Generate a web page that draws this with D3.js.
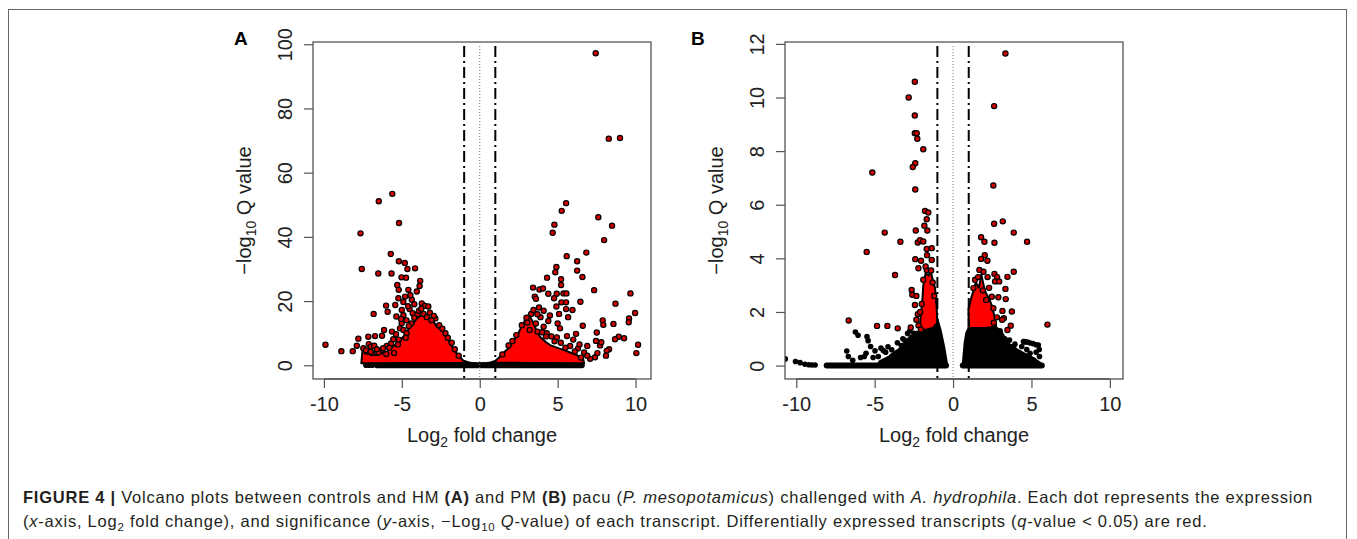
<!DOCTYPE html>
<meta charset="utf-8">
<script src="https://d3js.org/d3.v7.min.js"></script>
<style>
  body { margin: 0; background: #fff; }
  text { font-family: "Liberation Sans", Arial, Helvetica, sans-serif; }
</style>
<svg id="fig" width="1357" height="539"></svg>
<script>

// ---- data ----
var xTicks = [-10, -5, 0, 5, 10];
var yTicksA = [0, 20, 40, 60, 80, 100];
var yTicksB = [0, 2, 4, 6, 8, 10, 12];
var foldCuts = [-1, 1];
var zeroLine = [0];

// panel A: significant transcripts (log2 FC, -log10 q)
var sigA = [[7.44,97.2],[8.28,70.6],[9.0,70.8],[-6.48,51.1],[-5.61,53.4],[5.54,50.5],[5.26,48.1],[7.61,46.1],
  [-5.18,44.3],[-7.65,41.1],[-7.57,30.0],[-6.51,28.6],[-5.71,34.7],[-5.19,32.4],[-4.81,31.9],[-4.64,30.0],
  [-4.15,30.2],[-5.66,28.6],[-5.02,27.4],[-4.73,27.3],[-3.82,26.3],[-3.86,24.7],[-5.29,25.0],[-5.2,23.5],
  [-4.58,23.5],[-4.04,23.0],[-4.79,21.4],[-5.22,20.9],[-4.36,20.4],[-6.01,18.6],[-5.42,18.8],[-3.72,19.3],
  [-3.51,18.5],[-3.30,18.3],[-5.91,16.7],[-6.81,16.0],[-5.35,15.2],[-4.90,15.6],[-2.85,14.6],[-6.14,11.0],
  [-5.63,10.5],[-6.72,9.1],[-6.27,9.2],[-7.15,8.9],[-7.79,8.3],[-7.89,6.1],[-9.9,6.4],[-8.88,4.4],[-8.15,4.4],
  [-7.12,6.6],[-7.47,5.3],[-6.98,5.8],[-6.77,6.1],[-6.32,4.6],[-5.97,6.0],[-5.69,6.8],[-5.55,8.1],[-5.37,9.7],
  [-5.12,11.5],[-5.01,13.1],[-4.5,17.5],[-4.3,16.2],[-4.0,15.8],[-3.9,17.0],[-3.6,16.0],[-4.7,14.0],[-4.4,13.0],
  [-4.9,11.0],[-4.7,10.0],[-5.2,8.0],[-5.8,5.5],[-6.5,4.0],[-6.9,3.8],[-6.0,3.5],[-5.5,3.8],[-3.4,15.0],
  [-3.1,14.0],[-2.6,12.5],[-2.2,10.0],[-1.8,7.0],[-4.2,19.0],[-4.6,18.4],[-5.0,17.2],[-4.45,21.8],[-4.9,19.7],
  [-5.05,14.4],[-4.2,14.8],[-3.75,17.6],[-3.2,16.4],[-2.95,15.4],[-4.55,12.2],[-4.75,8.6],[-5.25,6.5],
  [-6.2,5.3],[-6.6,5.0],[-7.3,4.7],[-7.0,4.2],[-2.4,11.4],[-2.05,8.6],[-1.6,5.0],[-1.35,3.0],
  [8.49,43.5],[4.79,43.8],[4.68,41.3],[7.98,39.0],[6.84,35.1],[5.58,34.0],[6.25,32.4],[4.92,30.6],[6.25,29.5],
  [4.85,29.0],[4.32,27.3],[5.22,26.8],[6.59,27.5],[3.42,24.2],[3.83,23.6],[4.06,23.9],[5.22,25.0],[4.40,22.3],
  [4.94,22.3],[5.37,22.4],[5.56,22.4],[7.34,23.4],[9.67,22.4],[3.53,21.4],[3.61,20.7],[4.77,20.9],[5.24,19.6],
  [5.54,19.6],[6.46,19.8],[8.71,19.2],[4.92,18.3],[5.54,17.5],[5.95,17.2],[5.09,16.0],[5.67,15.0],[9.97,16.3],
  [9.58,14.6],[9.56,13.4],[7.89,14.0],[7.93,12.6],[8.58,12.9],[6.61,12.3],[5.15,11.5],[7.51,10.2],[6.18,9.8],
  [8.92,8.9],[9.26,8.4],[8.68,8.1],[7.46,7.6],[10.16,6.4],[10.05,3.8],[8.30,5.0],[8.15,4.5],[8.1,3.0],[7.72,6.2],
  [7.8,7.2],[7.40,2.5],[7.08,2.0],[7.55,3.8],[3.0,14.8],[3.3,16.0],[3.6,13.0],[3.9,15.0],[4.1,12.0],[4.3,10.0],
  [4.6,9.0],[4.8,7.5],[5.2,7.0],[5.8,6.0],[6.3,5.2],[6.7,4.0],[6.9,3.0],[6.5,2.4],[2.7,12.5],[3.2,11.0],
  [3.7,10.5],[4.4,13.8],[4.1,17.0],[3.8,18.0],[4.5,15.5],[5.0,13.0],[6.0,8.0],[6.9,6.0],[3.45,17.2],[3.7,15.9],
  [4.25,9.0],[4.0,10.3],[5.5,5.5],[6.1,4.3],[6.4,6.5],[5.6,9.1],[4.95,8.7],[2.35,9.4],[1.85,6.2],[1.45,3.4],
  [2.1,7.6],[3.05,13.3]];
// panel A: dense clouds (outline of the packed dots)
var redCloudA = [
  [[-7.6,0.6],[-7.51,5.3],[-7.36,3.7],[-6.61,3.2],[-5.97,4.2],[-5.44,6.3],[-4.90,8.9],[-4.6,11.0],[-4.47,12.6],
   [-4.2,13.4],[-4.04,14.6],[-3.8,15.4],[-3.5,16.1],[-3.19,14.8],[-2.9,13.2],[-2.76,12.0],[-2.5,11.3],
   [-2.34,10.5],[-2.1,8.9],[-1.91,6.9],[-1.7,5.2],[-1.48,3.7],[-1.2,2.2],[-0.94,0.8]],
  [[0.87,0.8],[1.1,1.8],[1.30,2.7],[1.6,4.2],[1.94,5.8],[2.2,7.9],[2.48,10.0],[2.7,12.2],[2.91,14.1],[3.1,15.6],
   [3.23,15.1],[3.4,13.6],[3.55,12.0],[3.7,10.2],[3.87,8.9],[4.2,7.4],[4.51,6.3],[4.9,5.6],[5.37,4.8],[5.8,4.0],
   [6.23,3.2],[6.45,2.4],[6.65,1.7],[6.7,0.6]]];
var nsCloudA = [[[-1.3,0],[-1.0,1.2],[-0.6,0.6],[0,0.3],[0.6,0.6],[1.0,1.2],[1.3,0]]];
var nsA = [[-7.3,0],[-7.1,0],[-6.9,0]];
var baselineA = [[-6.6, 6.55]];

// panel B
var sigB = [[3.34,11.64],[-2.44,10.59],[-2.83,10.0],[2.62,9.68],[-2.44,9.33],[-2.44,8.67],[-2.32,8.67],
  [-2.28,8.46],[-1.90,8.07],[-2.41,7.55],[-2.57,7.41],[-5.15,7.2],[-2.41,6.57],[2.57,6.72],[-1.79,5.77],
  [-1.58,5.71],[-1.68,5.46],[-1.83,5.22],[-1.64,5.04],[-2.38,5.04],[-4.36,4.96],[-3.36,4.62],[-2.25,4.59],
  [-2.11,4.68],[-1.90,4.63],[-1.68,4.35],[-1.36,4.38],[-5.51,4.24],[-2.41,3.97],[-2.04,3.91],[-1.66,4.12],
  [-1.36,3.94],[-2.21,3.63],[-1.68,3.57],[-3.70,3.38],[-2.64,2.82],[-2.60,2.64],[-2.34,2.60],[-2.43,2.26],
  [-2.25,1.92],[-2.34,1.71],[-2.70,1.42],[-6.66,1.68],[-4.85,1.48],[-4.19,1.48],[-3.53,1.39],
  [-1.9,3.2],[-1.3,3.1],[-2.0,2.3],[-2.1,2.0],[-2.2,1.5],[-1.2,2.6],[-2.05,1.35],[-1.4,3.55],[-1.75,3.7],
  [2.62,5.29],[3.17,5.38],[1.79,4.79],[2.00,4.62],[2.64,4.58],[3.87,4.96],[4.72,4.62],[2.02,4.12],[1.79,3.98],
  [2.19,3.91],[1.68,3.57],[1.94,3.50],[2.64,3.42],[2.81,3.30],[2.68,3.14],[2.94,3.14],[3.87,3.50],[3.47,3.31],
  [3.34,2.86],[2.89,2.55],[3.36,2.48],[2.57,2.14],[3.15,2.04],[3.24,1.77],[3.75,2.02],[3.68,1.49],[3.47,1.33],
  [6.02,1.53],[3.13,1.71],[1.40,3.20],[1.30,2.89],[2.11,2.45],[2.47,2.57],[1.6,3.3],
  [2.3,2.9],[2.2,3.3],[2.8,1.8],[2.6,1.6],[1.9,2.8]];
var redCloudB = [
  [[-2.15,1.3],[-2.05,1.9],[-1.95,2.5],[-1.9,3.0],[-1.75,3.45],[-1.55,3.35],[-1.45,3.6],[-1.3,3.2],
   [-1.15,2.9],[-1.05,2.2],[-1.0,1.6],[-1.3,1.4],[-1.7,1.35]],
  [[1.0,1.4],[0.98,2.1],[1.15,2.5],[1.3,2.8],[1.45,3.1],[1.65,2.9],[1.8,3.4],[1.95,3.0],[2.1,2.7],[2.3,2.5],
   [2.5,2.2],[2.65,1.8],[2.75,1.45],[2.0,1.4]]];
var nsCloudB = [
  [[-4.8,0],[-4.66,0.15],[-4.02,0.34],[-3.7,0.5],[-3.38,0.62],[-2.96,0.9],[-2.7,1.1],[-2.53,1.05],[-2.3,1.25],
   [-2.11,1.2],[-1.9,1.3],[-1.68,1.35],[-1.3,1.55],[-1.04,1.75],[-0.83,1.33],[-0.6,0.7],[-0.4,0]],
  [[0.6,0],[0.66,0.11],[0.77,0.84],[0.87,1.21],[1.08,1.46],[1.4,1.4],[1.6,1.45],[2.0,1.38],[2.4,1.48],
   [2.79,1.39],[3.11,1.21],[3.3,1.0],[3.43,0.84],[3.75,0.72],[4.06,0.59],[4.5,0.45],[4.91,0.34],[5.55,0.09],
   [5.6,0]]];
var nsB = [[-10.7,0.25],[-10.05,0.15],[-9.76,0.11],[-9.45,0.05],[-9.2,0.03],[-9.0,0.02],[-8.8,0.02],
  [-6.78,0.54],[-6.68,0.34],[-6.23,1.25],[-6.06,1.13],[-5.49,1.08],[-5.42,0.93],[-5.26,0.71],[-5.55,0.46],
  [-5.66,0.34],[-4.98,0.55],[-4.77,0.34],[-4.45,0.56],[-3.91,0.59],[-3.9,0.35],[-3.6,0.3],[-3.3,0.75],
  [-3.1,0.95],[-2.9,1.2],[-3.2,1.0],[-4.3,0.5],[-4.6,0.65],[-4.15,0.7],[-3.55,0.85],[-2.75,1.3],[-2.5,1.2],
  [-5.1,0.3],[-5.9,0.3],[-6.4,0.2],
  [3.81,0.71],[4.49,0.90],[4.62,0.88],[4.75,0.88],[4.91,0.84],[5.1,0.82],[5.3,0.78],[5.44,0.77],[5.5,0.6],
  [5.51,0.34],[4.28,0.34],[4.15,0.5],[3.53,0.46],[3.4,0.25],[5.13,0.21],[4.55,0.90],[4.38,0.71],[3.85,0.65],
  [3.64,0.46],[4.17,0.46],[4.91,0.46],[3.3,1.0],[3.0,1.3],[3.6,0.95],[3.95,0.8],[4.0,0.3],[4.7,0.6],[5.3,0.5],
  [2.6,1.5],[2.2,1.5],[1.3,1.5]];
var baselineB = [[-8.06, -0.45], [0.62, 5.66]];

var captionLine1 = [["FIGURE 4 | ", "b"], ["Volcano plots between controls and HM ", ""], ["(A)", "b"],
  [" and PM ", ""], ["(B)", "b"], [" pacu (", ""], ["P. mesopotamicus", "i"], [") challenged with ", ""],
  ["A. hydrophila", "i"], [". Each dot represents the expression", ""]];
var captionLine2 = [["(", ""], ["x", "i"], ["-axis, Log", ""], ["2", "sub"], [" fold change), and significance (", ""],
  ["y", "i"], ["-axis, \u2212Log", ""], ["10", "sub"], [" ", ""], ["Q", "i"],
  ["-value) of each transcript. Differentially expressed transcripts (", ""], ["q", "i"],
  ["-value < 0.05) are red.", ""]];

// ---- layout ----
var panels = [
  { label: "A", labelX: 234, box: [313, 42, 651, 379], xDom: [-10.70, 10.99], yDom: [-4.27, 100.7],
    yTicks: yTicksA, sig: sigA, red: redCloudA, nsCloud: nsCloudA, ns: nsA, base: baselineA },
  { label: "B", labelX: 691, box: [785, 42, 1123, 379], xDom: [-10.72, 10.84], yDom: [-0.50, 12.07],
    yTicks: yTicksB, sig: sigB, red: redCloudB, nsCloud: nsCloudB, ns: nsB, base: baselineB }
];

var svg = d3.select("#fig");

// outer frame
svg.append("rect")
  .attr("x", 8.5).attr("y", 9.5).attr("width", 1338).attr("height", 560)
  .attr("fill", "none").attr("stroke", "#666").attr("stroke-width", 1);

panels.forEach(function(p, i) {
  var x = d3.scaleLinear().domain(p.xDom).range([p.box[0], p.box[2]]);
  var y = d3.scaleLinear().domain(p.yDom).range([p.box[3], p.box[1]]);

  svg.append("clipPath").attr("id", "clip" + i)
    .append("rect")
    .attr("x", p.box[0]).attr("y", p.box[1])
    .attr("width", p.box[2] - p.box[0]).attr("height", p.box[3] - p.box[1]);

  var plot = svg.append("g").attr("clip-path", "url(#clip" + i + ")");

  var poly = d3.line()
    .x(function(d) { return x(d[0]); })
    .y(function(d) { return y(d[1]); })
    .curve(d3.curveLinearClosed);

  // non-significant dense mass
  plot.selectAll(".ns-cloud").data(p.nsCloud).enter().append("path")
    .attr("d", poly).attr("fill", "#000").attr("stroke", "#000").attr("stroke-width", 3)
    .attr("stroke-linejoin", "round");

  // zero-significance band (many dots at q = 1)
  plot.selectAll(".base").data(p.base).enter().append("line")
    .attr("x1", function(d) { return x(d[0]); })
    .attr("x2", function(d) { return x(d[1]); })
    .attr("y1", y(0)).attr("y2", y(0))
    .attr("stroke", "#000").attr("stroke-width", 6).attr("stroke-linecap", "round");

  plot.selectAll(".ns-dot").data(p.ns).enter().append("circle")
    .attr("cx", function(d) { return x(d[0]); })
    .attr("cy", function(d) { return y(d[1]); })
    .attr("r", 2.8).attr("fill", "#000");

  // significant dense mass
  plot.selectAll(".red-cloud").data(p.red).enter().append("path")
    .attr("d", poly).attr("fill", "#ff0000").attr("stroke", "#000").attr("stroke-width", 2)
    .attr("stroke-linejoin", "round");

  plot.selectAll(".sig-dot").data(p.sig).enter().append("circle")
    .attr("cx", function(d) { return x(d[0]); })
    .attr("cy", function(d) { return y(d[1]); })
    .attr("r", 2.6).attr("fill", "#d40000").attr("stroke", "#000").attr("stroke-width", 1.2);

  // fold change cut-offs
  plot.selectAll(".cut").data(foldCuts).enter().append("line")
    .attr("x1", x).attr("x2", x)
    .attr("y1", p.box[1] + 4).attr("y2", p.box[3])
    .attr("stroke", "#000").attr("stroke-width", 2)
    .attr("stroke-dasharray", "11,4,2,4");

  plot.selectAll(".zero").data(zeroLine).enter().append("line")
    .attr("x1", x).attr("x2", x)
    .attr("y1", p.box[1] + 4).attr("y2", p.box[3])
    .attr("stroke", "#777").attr("stroke-width", 1)
    .attr("stroke-dasharray", "1,2");

  // box
  svg.append("rect")
    .attr("x", p.box[0]).attr("y", p.box[1])
    .attr("width", p.box[2] - p.box[0]).attr("height", p.box[3] - p.box[1])
    .attr("fill", "none").attr("stroke", "#555").attr("stroke-width", 1.3);

  // axes
  var xAxis = svg.append("g")
    .attr("transform", "translate(0," + p.box[3] + ")")
    .call(d3.axisBottom(x).tickValues(xTicks).tickSize(9).tickSizeOuter(0)
      .tickFormat(function(d) { return String(d); }));
  xAxis.select(".domain").remove();
  xAxis.selectAll("line").attr("stroke", "#555").attr("stroke-width", 1.2);
  xAxis.selectAll("text").attr("y", 18).attr("font-size", 20).attr("fill", "#222")
    .style("font-family", "'Liberation Sans', Arial, sans-serif");
  xAxis.append("line")
    .attr("x1", x(xTicks[0])).attr("x2", x(xTicks[xTicks.length - 1]))
    .attr("stroke", "#555").attr("stroke-width", 1.3);

  var yAxis = svg.append("g")
    .attr("transform", "translate(" + p.box[0] + ",0)")
    .call(d3.axisLeft(y).tickValues(p.yTicks).tickSize(9).tickSizeOuter(0)
      .tickFormat(function(d) { return String(d); }));
  yAxis.select(".domain").remove();
  yAxis.selectAll("line").attr("stroke", "#555").attr("stroke-width", 1.2);
  yAxis.selectAll("text")
    .attr("x", 0).attr("y", -21.5).attr("dy", null)
    .attr("transform", "rotate(-90)")
    .attr("text-anchor", "middle")
    .attr("font-size", 20).attr("fill", "#222")
    .style("font-family", "'Liberation Sans', Arial, sans-serif");

  // axis titles
  var cx = (p.box[0] + p.box[2]) / 2, cy = (p.box[1] + p.box[3]) / 2;
  var xt = svg.append("text")
    .attr("x", cx).attr("y", p.box[3] + 63)
    .attr("text-anchor", "middle").attr("font-size", 20).attr("fill", "#222");
  xt.append("tspan").text("Log");
  xt.append("tspan").attr("font-size", 14).attr("dy", 5).text("2");
  xt.append("tspan").attr("dy", -5).text(" fold change");

  var yt = svg.append("text")
    .attr("transform", "translate(" + (p.box[0] - 62) + "," + cy + ") rotate(-90)")
    .attr("text-anchor", "middle").attr("font-size", 20).attr("fill", "#222");
  yt.append("tspan").text("\u2212log");
  yt.append("tspan").attr("font-size", 14).attr("dy", 5).text("10");
  yt.append("tspan").attr("dy", -5).text(" Q value");

  // panel letter
  svg.append("text")
    .attr("x", p.labelX).attr("y", 45)
    .attr("font-size", 19).attr("font-weight", "bold").attr("fill", "#000")
    .text(p.label);
});

// caption
function caption(parts, yPos) {
  var t = svg.append("text").attr("x", 23).attr("y", yPos)
    .attr("font-size", 16.5).attr("fill", "#231f20");
  var wasSub = false;
  parts.forEach(function(s) {
    var sp = t.append("tspan").text(s[0]);
    if (s[1] === "b") sp.attr("font-weight", "bold");
    if (s[1] === "i") sp.attr("font-style", "italic");
    if (s[1] === "sub") { sp.attr("font-size", 11.5).attr("dy", 4); wasSub = true; }
    else if (wasSub) { sp.attr("dy", -4); wasSub = false; }
  });
  return t;
}
var cap1 = caption(captionLine1, 503);
var cap2 = caption(captionLine2, 527);

// stretch caption to the column width
var w1 = cap1.node().getComputedTextLength();
var n1 = captionLine1.map(function(s) { return s[0]; }).join("").length;
var spacing = (1290 - w1) / n1;
cap1.attr("letter-spacing", spacing);
cap2.attr("letter-spacing", spacing);

</script>
